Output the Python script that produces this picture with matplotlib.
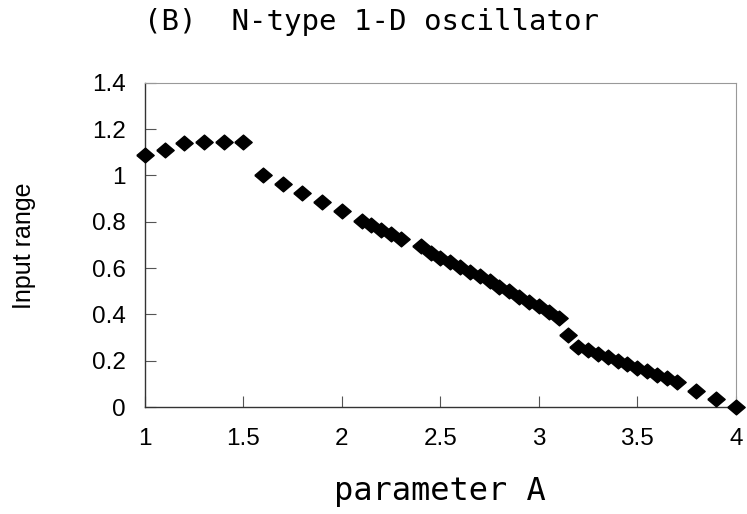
import matplotlib
matplotlib.use("Agg")
import matplotlib.pyplot as plt

# parameter A vs input range
param_a = [1.0, 1.1, 1.2, 1.3, 1.4, 1.5,
           1.6, 1.7, 1.8, 1.9, 2.0,
           2.1, 2.15, 2.2, 2.25, 2.3,
           2.4, 2.45, 2.5, 2.55, 2.6, 2.65, 2.7, 2.75, 2.8, 2.85, 2.9, 2.95, 3.0, 3.05, 3.1,
           3.15,
           3.2, 3.25, 3.3, 3.35, 3.4, 3.45, 3.5, 3.55, 3.6, 3.65, 3.7,
           3.8, 3.9, 4.0]
input_range = [1.09, 1.11, 1.14, 1.145, 1.145, 1.145,
               1.0, 0.965, 0.925, 0.885, 0.845,
               0.805, 0.785, 0.765, 0.745, 0.725,
               0.695, 0.665, 0.645, 0.625, 0.605, 0.585, 0.565, 0.545, 0.52, 0.50, 0.475, 0.455, 0.435, 0.41, 0.385,
               0.31,
               0.26, 0.245, 0.23, 0.215, 0.20, 0.185, 0.17, 0.155, 0.14, 0.125, 0.11,
               0.07, 0.035, 0.0]

xticks = [1, 1.5, 2, 2.5, 3, 3.5, 4]
xticklabels = ["1", "1.5", "2", "2.5", "3", "3.5", "4"]
yticks = [0, 0.2, 0.4, 0.6, 0.8, 1.0, 1.2, 1.4]
yticklabels = ["0", "0.2", "0.4", "0.6", "0.8", "1", "1.2", "1.4"]

plt.rcParams['font.family'] = ['Liberation Sans', 'DejaVu Sans']

fig = plt.figure(figsize=(7.47, 5.14), dpi=100)
ax = fig.add_axes([0.194, 0.208, 0.791, 0.631])

# excel-ish diamond, a bit wider than tall
diamond = [(-1, 0), (0, 0.85), (1, 0), (0, -0.85), (-1, 0)]
ax.plot(param_a, input_range, linestyle="none", marker=diamond, markersize=12.5,
        color="black", clip_on=False, zorder=3)

ax.set_xlim(1, 4)
ax.set_ylim(0, 1.4)
ax.set_xticks(xticks)
ax.set_xticklabels(xticklabels, fontsize=17.5)
ax.set_yticks(yticks)
ax.set_yticklabels(yticklabels, fontsize=17.5)
ax.tick_params(direction="in", length=8, width=0.8, color="#555555")
ax.tick_params(axis="x", pad=15)
ax.tick_params(axis="y", pad=14)

for side in ["left", "bottom"]:
    ax.spines[side].set_color("#333333")
    ax.spines[side].set_linewidth(1.0)
for side in ["top", "right"]:
    ax.spines[side].set_color("#999999")
    ax.spines[side].set_linewidth(0.8)

fig.text(0.497, 0.958, "(B)  N-type 1-D oscillator", ha="center", va="center",
         family=["DejaVu Sans Mono"], fontsize=21)
fig.text(0.589, 0.043, "parameter A", ha="center", va="center",
         family=["DejaVu Sans Mono"], fontsize=23)
fig.text(0.032, 0.522, "Input range", ha="center", va="center", rotation=90,
         fontsize=18)

fig.savefig("out.png", dpi=100)
